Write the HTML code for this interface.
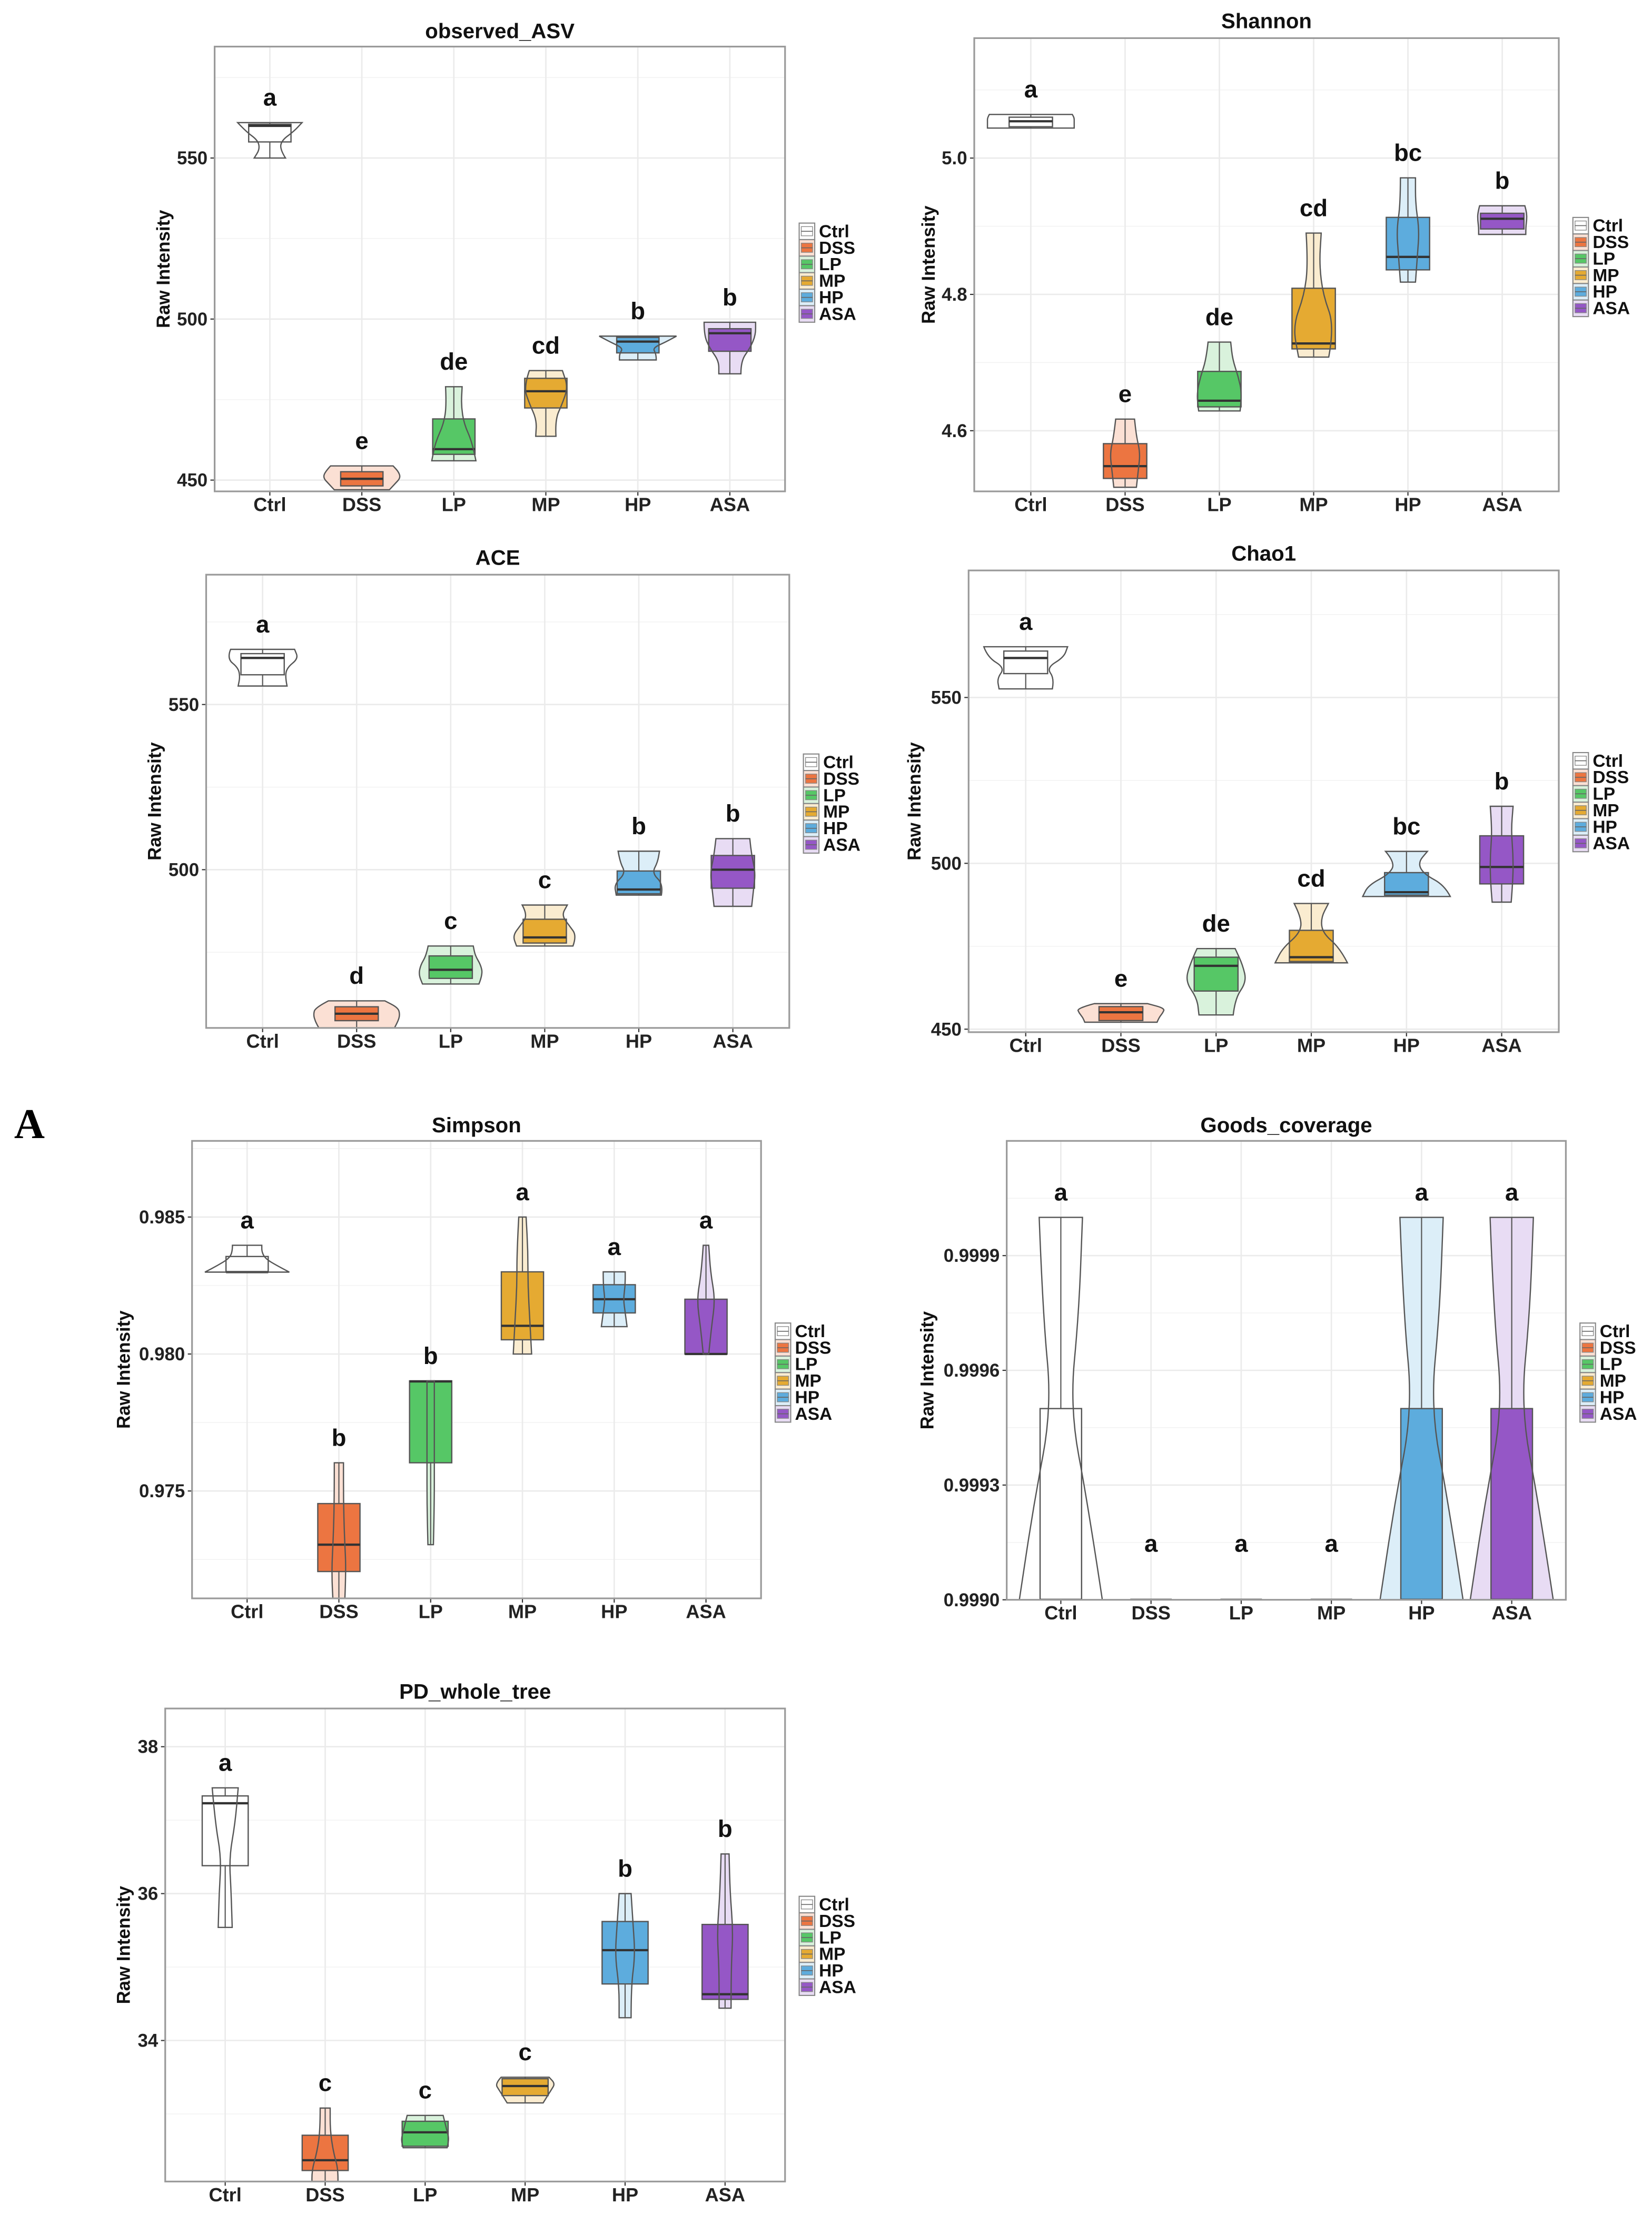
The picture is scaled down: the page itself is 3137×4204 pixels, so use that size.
<!DOCTYPE html>
<html><head><meta charset="utf-8"><style>
html,body{margin:0;padding:0;background:#fff;}
svg{display:block;font-family:"Liberation Sans",sans-serif;}
</style></head><body>
<svg id="fig" width="3137" height="4204" viewBox="0 0 1170 1568" xmlns="http://www.w3.org/2000/svg">
<text x="10" y="806" font-family="Liberation Serif,serif" font-weight="bold" font-size="30">A</text>
</svg>
<script>
// ===== data =====
const groups = ["Ctrl","DSS","LP","MP","HP","ASA"];
const boxColors = ["#ffffff","#ec7541","#56c766","#e5aa32","#5dacdd","#9557c6"];
const violinColors = ["#ffffff","#fbe0d4","#d9f2dc","#faecd0","#dceef8","#e8dcf4"];

// observed_ASV
const obsMin=[550,447,456,463.6,487.3,483], obsMax=[561,454.4,479,484,494.7,499];
const obsQ1=[555,448.2,458,472.4,489.5,490], obsMed=[560,450.4,459.6,477.6,493,495.6], obsQ3=[560.5,452.6,469,481.6,494.3,497];
const obsDens=[[0.17,0.11,0.13,0.26,0.35],[0.3,0.36,0.42,0.4,0.34],[0.24,0.2,0.11,0.08,0.09],[0.11,0.1,0.18,0.24,0.18],[0.2,0.2,0.16,0.3,0.42],[0.12,0.12,0.22,0.28,0.28]];
const obsLetters=["a","e","de","cd","b","b"];
const obsTicks=[450,500,550];
// Shannon
const shaMin=[5.044,4.517,4.629,4.708,4.818,4.888], shaMax=[5.064,4.617,4.73,4.89,4.971,4.93];
const shaQ1=[5.046,4.53,4.635,4.72,4.836,4.896], shaMed=[5.054,4.548,4.644,4.728,4.855,4.911], shaQ3=[5.06,4.581,4.687,4.809,4.913,4.919];
const shaDens=[[0.46,0.46,0.46,0.46,0.44],[0.12,0.14,0.16,0.12,0.1],[0.22,0.24,0.2,0.14,0.12],[0.16,0.22,0.1,0.06,0.08],[0.08,0.1,0.12,0.08,0.08],[0.25,0.25,0.26,0.26,0.24]];
const shaLetters=["a","e","de","cd","bc","b"];
const shaTicks=[4.6,4.8,5.0];
// ACE
const aceMin=[555.6,452,465.4,476.9,492.3,488.9], aceMax=[566.7,460.3,476.9,489.3,505.6,509.4];
const aceQ1=[559,454.3,467.1,477.8,492.7,494.4], aceMed=[564.1,456.4,469.7,479.5,494,500], aceQ3=[565.4,458.5,473.9,485,499.6,504.3];
const aceDens=[[0.26,0.24,0.26,0.38,0.34],[0.4,0.44,0.46,0.44,0.3],[0.3,0.34,0.32,0.26,0.24],[0.3,0.34,0.26,0.18,0.24],[0.24,0.26,0.14,0.2,0.22],[0.2,0.22,0.24,0.2,0.18]];
const aceLetters=["a","d","c","c","b","b"];
const aceTicks=[500,550];
// Chao1
const chaMin=[552.6,452.1,454.3,470,490,488.3], chaMax=[565.3,457.7,474.3,487.9,503.6,517.2];
const chaQ1=[557.2,452.6,461.5,470.4,490.4,493.8], chaMed=[561.9,455.1,469.1,471.7,491.3,498.9], chaQ3=[564,456.8,471.7,479.8,497.2,508.3];
const chaDens=[[0.28,0.3,0.22,0.4,0.44],[0.38,0.4,0.44,0.46,0.28],[0.18,0.2,0.32,0.28,0.2],[0.38,0.3,0.12,0.1,0.18],[0.46,0.4,0.18,0.12,0.22],[0.1,0.12,0.12,0.1,0.12]];
const chaLetters=["a","e","de","cd","bc","b"];
const chaTicks=[450,500,550];
// Simpson
const simMin=[0.98299,0.9707,0.97304,0.980,0.981,0.980], simMax=[0.98397,0.97603,0.97902,0.985,0.983,0.98397];
const simQ1=[0.98299,0.97206,0.97603,0.98052,0.9815,0.980], simMed=[0.98299,0.97304,0.979,0.98103,0.982,0.980], simQ3=[0.98356,0.97454,0.97902,0.983,0.98253,0.982];
const simDens=[[0.46,0.32,0.2,0.16,0.16],[0.06,0.08,0.06,0.05,0.05],[0.03,0.04,0.04,0.04,0.04],[0.1,0.08,0.06,0.06,0.04],[0.14,0.12,0.1,0.12,0.12],[0.03,0.06,0.1,0.05,0.03]];
const simLetters=["a","b","b","a","a","a"];
const simTicks=[0.975,0.980,0.985];
// Goods_coverage
const gooMin=[0.999,0.999,0.999,0.999,0.999,0.999], gooMax=[1.0,0.999,0.999,0.999,1.0,1.0];
const gooQ1=[0.999,0.999,0.999,0.999,0.999,0.999], gooMed=[0.999,0.999,0.999,0.999,0.999,0.999], gooQ3=[0.9995,0.999,0.999,0.999,0.9995,0.9995];
const gooDens=[[0.46,0.3,0.1,0.2,0.24],[0,0,0,0,0],[0,0,0,0,0],[0,0,0,0,0],[0.46,0.3,0.1,0.2,0.24],[0.46,0.3,0.1,0.2,0.24]];
const gooLetters=["a","a","a","a","a","a"];
const gooTicks=[0.9990,0.9993,0.9996,0.9999];
// PD_whole_tree
const pdMin=[35.54,31.9,32.54,33.15,34.31,34.44], pdMax=[37.44,33.08,32.98,33.5,36.0,36.54];
const pdQ1=[36.38,32.23,32.56,33.25,34.77,34.56], pdMed=[37.23,32.37,32.75,33.38,35.23,34.63], pdQ3=[37.33,32.71,32.9,33.48,35.62,35.58];
const pdDens=[[0.07,0.06,0.04,0.1,0.13],[0.12,0.14,0.08,0.05,0.05],[0.22,0.24,0.22,0.2,0.18],[0.18,0.22,0.26,0.3,0.24],[0.06,0.06,0.1,0.08,0.06],[0.06,0.06,0.08,0.05,0.04]];
const pdLetters=["a","c","c","c","b","b"];
const pdTicks=[34,36,38];

// ===== layout =====
const panels=[
 {name:"observed-asv",title:"observed_ASV",L:152,R:556,T:33,B:348,lo:446.5,hi:584.6,ticks:obsTicks,fmt:v=>v,mn:obsMin,mx:obsMax,q1:obsQ1,md:obsMed,q3:obsQ3,dn:obsDens,lt:obsLetters,titleY:27,ytX:120,legY:158},
 {name:"shannon",title:"Shannon",L:690,R:1104,T:27,B:348,lo:4.511,hi:5.176,ticks:shaTicks,fmt:v=>v.toFixed(1),mn:shaMin,mx:shaMax,q1:shaQ1,md:shaMed,q3:shaQ3,dn:shaDens,lt:shaLetters,titleY:20,ytX:662,legY:154},
 {name:"ace",title:"ACE",L:146,R:559,T:407,B:728,lo:452.1,hi:589.3,ticks:aceTicks,fmt:v=>v,mn:aceMin,mx:aceMax,q1:aceQ1,md:aceMed,q3:aceQ3,dn:aceDens,lt:aceLetters,titleY:400,ytX:114,legY:534},
 {name:"chao1",title:"Chao1",L:686,R:1104,T:404,B:731,lo:449.1,hi:588.3,ticks:chaTicks,fmt:v=>v,mn:chaMin,mx:chaMax,q1:chaQ1,md:chaMed,q3:chaQ3,dn:chaDens,lt:chaLetters,titleY:397,ytX:652,legY:533},
 {name:"simpson",title:"Simpson",L:136,R:539,T:808,B:1132,lo:0.97108,hi:0.98778,ticks:simTicks,fmt:v=>v.toFixed(3),mn:simMin,mx:simMax,q1:simQ1,md:simMed,q3:simQ3,dn:simDens,lt:simLetters,titleY:802,ytX:92,legY:937},
 {name:"goods-coverage",title:"Goods_coverage",L:713,R:1109,T:808,B:1133,lo:0.9990,hi:1.0002,ticks:gooTicks,fmt:v=>v.toFixed(4),mn:gooMin,mx:gooMax,q1:gooQ1,md:gooMed,q3:gooQ3,dn:gooDens,lt:gooLetters,titleY:802,ytX:661,legY:937},
 {name:"pd-whole-tree",title:"PD_whole_tree",L:117,R:556,T:1210,B:1545,lo:32.08,hi:38.52,ticks:pdTicks,fmt:v=>v,mn:pdMin,mx:pdMax,q1:pdQ1,md:pdMed,q3:pdQ3,dn:pdDens,lt:pdLetters,titleY:1203,ytX:92,legY:1343}
];
const NS="http://www.w3.org/2000/svg";
const svg=document.getElementById('fig');
function mk(tag,attrs,parent){const e=document.createElementNS(NS,tag);for(const k in attrs)e.setAttribute(k,attrs[k]);(parent||svg).appendChild(e);return e;}
function smooth(pts){let d="M"+pts[0][0]+","+pts[0][1];for(let i=1;i<pts.length-1;i++){const mx=(pts[i][0]+pts[i+1][0])/2,my=(pts[i][1]+pts[i+1][1])/2;d+=" Q"+pts[i][0]+","+pts[i][1]+" "+mx+","+my;}const l=pts[pts.length-1];d+=" L"+l[0]+","+l[1];return d;}

panels.forEach((p,pi)=>{
  const g=mk('g',{});
  
  
  const sp=(p.R-p.L)/6.2;
  const x=i=>p.L+(0.6+i)*sp;
  const y=v=>p.B-(v-p.lo)/(p.hi-p.lo)*(p.B-p.T);
  const clipId='clip'+pi;
  const cp=mk('clipPath',{id:clipId},g);mk('rect',{x:p.L,y:p.T,width:p.R-p.L,height:p.B-p.T},cp);
  const minor=[];for(let i=0;i<p.ticks.length-1;i++)minor.push((p.ticks[i]+p.ticks[i+1])/2);
  const step=p.ticks.length>1?p.ticks[1]-p.ticks[0]:1;
  minor.push(p.ticks[0]-step/2, p.ticks[p.ticks.length-1]+step/2);
  minor.forEach(v=>{const yy=y(v);if(yy>p.T&&yy<p.B){const l=mk('line',{x1:p.L,x2:p.R,y1:yy,y2:yy,stroke:'#f3f3f3','stroke-width':0.6},g);}});
  p.ticks.forEach(v=>{const yy=y(v);const l=mk('line',{x1:p.L,x2:p.R,y1:yy,y2:yy,stroke:'#ebebeb','stroke-width':1},g);
    mk('line',{x1:p.L-3,x2:p.L,y1:yy,y2:yy,stroke:'#333','stroke-width':0.8},g);
    const t=mk('text',{x:p.L-5,y:yy+4.5,'text-anchor':'end','font-size':13,'font-weight':'bold',fill:'#222'},g);t.textContent=p.fmt(v);
    });
  groups.forEach((gn,i)=>{const l=mk('line',{x1:x(i),x2:x(i),y1:p.T,y2:p.B,stroke:'#ebebeb','stroke-width':1},g);
    mk('line',{x1:x(i),x2:x(i),y1:p.B,y2:p.B+3,stroke:'#333','stroke-width':0.8},g);
    const t=mk('text',{x:x(i),y:p.B+14,'text-anchor':'middle','font-size':13.5,'font-weight':'bold',fill:'#222'},g);t.textContent=gn;
    });
  const cg=mk('g',{'clip-path':'url(#'+clipId+')'},g);
  groups.forEach((gn,i)=>{
    const cx=x(i),d=p.dn[i],n=d.length,top=y(p.mx[i]),bot=y(p.mn[i]);
    const right=[],left=[];
    for(let k=0;k<n;k++){const yy=bot+(top-bot)*k/(n-1);right.push([cx+d[k]*sp,yy]);}
    for(let k=n-1;k>=0;k--){const yy=bot+(top-bot)*k/(n-1);left.push([cx-d[k]*sp,yy]);}
    const path=smooth(right)+" L"+left[0][0]+","+left[0][1]+" "+smooth(left).slice(1).replace(/^[^ ]+/,'')+" Z";
    const maxD=Math.max(...d);
    if(maxD>0){
      const vf=mk('path',{d:path,fill:violinColors[i],stroke:'none'},cg);
      
    }
    mk('line',{x1:cx,x2:cx,y1:top,y2:bot,stroke:'#555','stroke-width':0.8},cg);
    const bw=0.23*sp;
    const bx=mk('rect',{x:cx-bw,y:y(p.q3[i]),width:2*bw,height:Math.max(0.6,y(p.q1[i])-y(p.q3[i])),fill:boxColors[i],stroke:'#555','stroke-width':0.9},cg);
    
    const md=mk('line',{x1:cx-bw,x2:cx+bw,y1:y(p.md[i]),y2:y(p.md[i]),stroke:'#333','stroke-width':1.6},cg);
    
    if(maxD>0){
      const vo=mk('path',{d:path,fill:'none',stroke:'#555','stroke-width':0.9},cg);
      
    }
    const lt=mk('text',{x:cx,y:(maxD>0?top:top-22)-12,'text-anchor':'middle','font-size':17,'font-weight':'bold',fill:'#111'},g);
    lt.textContent=p.lt[i];
    
  });
  const fr=mk('rect',{x:p.L,y:p.T,width:p.R-p.L,height:p.B-p.T,fill:'none',stroke:'#9a9a9a','stroke-width':1.2},g);
  
  const tt=mk('text',{x:(p.L+p.R)/2,y:p.titleY,'text-anchor':'middle','font-size':15,'font-weight':'bold',fill:'#111'},g);tt.textContent=p.title;
  
  const yt=mk('text',{x:0,y:0,transform:'translate('+p.ytX+','+((p.T+p.B)/2)+') rotate(-90)','text-anchor':'middle','font-size':13,'font-weight':'bold',fill:'#111'},g);yt.textContent='Raw Intensity';
  
  const lg=mk('g',{},g);
  const lx=p.R+10;
  groups.forEach((gn,i)=>{const yy=p.legY+i*11.7;
    const e=mk('g',{},lg);
    mk('rect',{x:lx,y:yy,width:11,height:11.7,fill:violinColors[i],stroke:'#888','stroke-width':0.8},e);
    mk('rect',{x:lx+1.5,y:yy+2.5,width:8,height:6.5,fill:boxColors[i],stroke:'#888','stroke-width':0.5},e);
    mk('line',{x1:lx+1.5,x2:lx+9.5,y1:yy+5.8,y2:yy+5.8,stroke:'#666','stroke-width':0.6},e);
    const t=mk('text',{x:lx+14,y:yy+10,'font-size':12.5,'font-weight':'bold',fill:'#111'},e);t.textContent=gn;});
});
</script>
</body></html>
